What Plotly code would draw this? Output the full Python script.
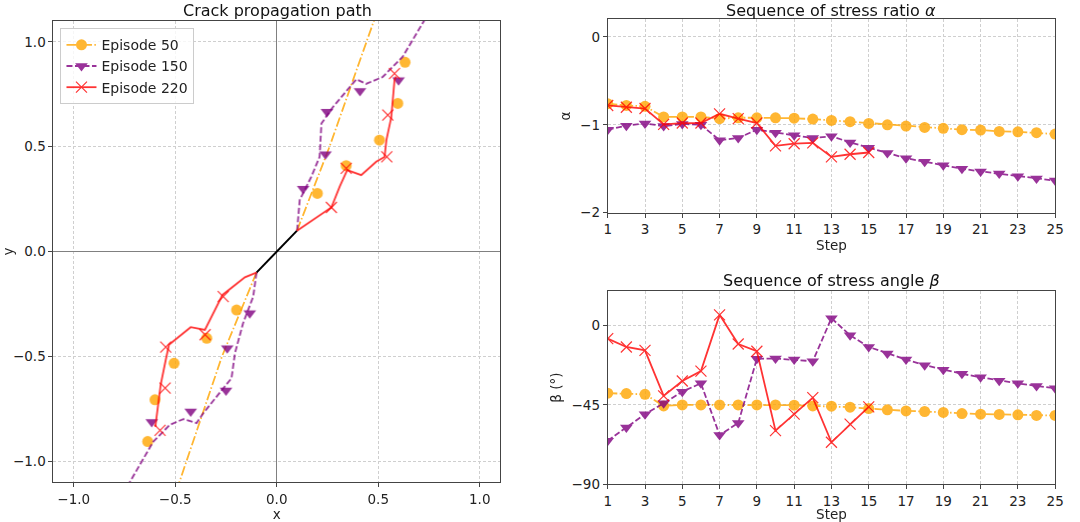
import plotly.graph_objects as go

# --- crack propagation path (left panel) ---
seed_x = [-0.1, 0.1]
seed_y = [-0.1, 0.1]

# Episode 50: path lines and sampled points
ep50_up_x = [0.1, 0.26, 0.515]
ep50_up_y = [0.1, 0.5, 1.2]
ep50_lo_x = [-0.1, -0.27, -0.515]
ep50_lo_y = [-0.1, -0.5, -1.2]
ep50_pts_x = [0.2, 0.342, 0.506, 0.596, 0.632, -0.198, -0.345, -0.506, -0.6, -0.636]
ep50_pts_y = [0.278, 0.41, 0.532, 0.707, 0.903, -0.278, -0.413, -0.532, -0.706, -0.905]

# Episode 150
ep150_up_x = [0.1, 0.113, 0.17, 0.211, 0.22, 0.277, 0.392, 0.44, 0.522, 0.62, 0.727, 0.76]
ep150_up_y = [0.1, 0.246, 0.357, 0.452, 0.611, 0.69, 0.822, 0.80, 0.833, 0.929, 1.103, 1.16]
ep150_lo_x = [-0.1, -0.116, -0.166, -0.206, -0.223, -0.362, -0.395, -0.46, -0.526, -0.608, -0.722, -0.75]
ep150_lo_y = [-0.1, -0.214, -0.341, -0.484, -0.603, -0.77, -0.817, -0.798, -0.825, -0.905, -1.095, -1.15]
ep150_pts_x = [0.13, 0.24, 0.247, 0.41, 0.6, -0.133, -0.244, -0.25, -0.424, -0.616]
ep150_pts_y = [0.30, 0.465, 0.667, 0.766, 0.817, -0.293, -0.46, -0.662, -0.762, -0.812]

# Episode 220
ep220_up_x = [0.1, 0.178, 0.269, 0.31, 0.347, 0.416, 0.49, 0.531, 0.54, 0.564, 0.58, 0.588]
ep220_up_y = [0.1, 0.151, 0.211, 0.31, 0.389, 0.365, 0.429, 0.452, 0.532, 0.64, 0.818, 0.835]
ep220_lo_x = [-0.1, -0.157, -0.267, -0.354, -0.424, -0.531, -0.547, -0.572, -0.596, -0.598]
ep220_lo_y = [-0.1, -0.122, -0.206, -0.373, -0.36, -0.444, -0.516, -0.635, -0.817, -0.835]
ep220_pts_x = [0.269, 0.342, 0.542, 0.547, 0.58, -0.264, -0.353, -0.547, -0.55, -0.575]
ep220_pts_y = [0.211, 0.397, 0.452, 0.651, 0.849, -0.214, -0.396, -0.455, -0.65, -0.852]

# --- stress sequences (right panels) ---
steps_50 = list(range(1, 26))
steps_150 = list(range(1, 26))
steps_220 = list(range(1, 16))

alpha_50 = [-0.76, -0.78, -0.79, -0.91, -0.91, -0.91, -0.93, -0.92, -0.92, -0.92,
            -0.925, -0.935, -0.95, -0.965, -0.985, -1.0, -1.015, -1.03, -1.04, -1.055,
            -1.06, -1.075, -1.08, -1.09, -1.105]
alpha_150 = [-1.055, -1.01, -0.985, -1.015, -0.99, -1.0, -1.175, -1.15, -1.055, -1.09,
             -1.12, -1.15, -1.13, -1.2, -1.26, -1.32, -1.38, -1.42, -1.46, -1.5,
             -1.53, -1.555, -1.585, -1.61, -1.635]
alpha_220 = [-0.78, -0.80, -0.815, -0.995, -0.98, -0.98, -0.875, -0.93, -0.98, -1.24,
             -1.215, -1.205, -1.365, -1.335, -1.315]

beta_50 = [-38.4, -38.6, -39.0, -45.6, -45.0, -45.0, -45.0, -45.0, -45.0, -45.0,
           -45.2, -45.6, -45.75, -46.3, -47.1, -47.8, -48.4, -48.75, -49.3, -49.9,
           -50.25, -50.4, -50.6, -51.0, -51.0]
beta_150 = [-65.3, -57.75, -50.25, -44.1, -37.5, -32.8, -62.1, -55.3, -18.9, -18.75,
            -19.3, -20.25, 4.1, -5.6, -12.2, -15.9, -19.3, -22.5, -25.1, -27.4,
            -29.4, -31.3, -32.8, -34.3, -35.6]
beta_220 = [-7.5, -12.2, -14.1, -39.9, -31.5, -25.9, 6.0, -10.5, -14.6, -59.6,
            -50.25, -40.9, -66.2, -55.9, -46.1]

episodes = ["Episode 50", "Episode 150", "Episode 220"]
step_ticks = list(range(1, 26, 2))

ORANGE = "orange"
PURPLE = "purple"
RED = "red"
FONT = "DejaVu Sans"

styles = [
    dict(color=ORANGE, dash="9.6px,2.4px,1.5px,2.4px", symbol="circle", size=11, mline=0),
    dict(color=PURPLE, dash="6px,2.5px", symbol="triangle-down", size=11, mline=0),
    dict(color=RED, dash="solid", symbol="x-thin", size=11, mline=1.2),
]


def marker(st):
    return dict(symbol=st["symbol"], size=st["size"], color=st["color"],
                line=dict(width=st["mline"], color=st["color"]))


def joined(a, b):
    return a + [None] + b


fig = go.Figure()

# left panel
fig.add_trace(go.Scatter(x=seed_x, y=seed_y, mode="lines", line=dict(color="black", width=2),
                         showlegend=False, xaxis="x", yaxis="y"))
paths = [
    (joined(ep50_up_x, ep50_lo_x), joined(ep50_up_y, ep50_lo_y), ep50_pts_x, ep50_pts_y),
    (joined(ep150_up_x, ep150_lo_x), joined(ep150_up_y, ep150_lo_y), ep150_pts_x, ep150_pts_y),
    (joined(ep220_up_x, ep220_lo_x), joined(ep220_up_y, ep220_lo_y), ep220_pts_x, ep220_pts_y),
]
for (lx, ly, px, py), st in zip(paths, styles):
    fig.add_trace(go.Scatter(x=lx, y=ly, mode="lines", opacity=0.8,
                             line=dict(color=st["color"], dash=st["dash"], width=1.8),
                             showlegend=False, xaxis="x", yaxis="y"))
    fig.add_trace(go.Scatter(x=px, y=py, mode="markers", opacity=0.8, marker=marker(st),
                             showlegend=False, xaxis="x", yaxis="y"))
# legend entries
for name, st in zip(episodes, styles):
    fig.add_trace(go.Scatter(x=[None], y=[None], mode="lines+markers", name=name, opacity=0.8,
                             line=dict(color=st["color"], dash=st["dash"], width=1.8),
                             marker=marker(st), xaxis="x", yaxis="y"))

# right panels
series = [
    (steps_50, alpha_50, beta_50),
    (steps_150, alpha_150, beta_150),
    (steps_220, alpha_220, beta_220),
]
for (sx, a, b), st in zip(series, styles):
    for yv, ax in ((a, "2"), (b, "3")):
        fig.add_trace(go.Scatter(x=sx, y=yv, mode="lines+markers", opacity=0.8,
                                 line=dict(color=st["color"], dash=st["dash"], width=1.8),
                                 marker=marker(st), showlegend=False,
                                 xaxis="x" + ax, yaxis="y" + ax))

axis_common = dict(showgrid=True, gridcolor="#cfcfcf", griddash="3px,2px", gridwidth=1,
                   showline=True, linecolor="#444", linewidth=1, mirror=True,
                   ticks="outside", ticklen=4, tickcolor="#444", automargin=False,
                   tickfont=dict(size=13.5, family=FONT, color="#222"))

fig.update_layout(
    width=1080, height=522,
    margin=dict(l=0, r=0, t=0, b=0, autoexpand=False),
    paper_bgcolor="white", plot_bgcolor="white",
    font=dict(family=FONT, size=14, color="#222"),
    showlegend=True,
    legend=dict(x=0.056, y=0.946, xanchor="left", yanchor="top",
                bgcolor="rgba(255,255,255,0.8)", bordercolor="#cccccc", borderwidth=1,
                font=dict(size=14, family=FONT), tracegroupgap=0, itemwidth=30),
    xaxis=dict(domain=[0.0495, 0.463], range=[-1.1, 1.1], anchor="y",
               tickvals=[-1.0, -0.5, 0.0, 0.5, 1.0], ticktext=["\u22121.0", "\u22120.5", "0.0", "0.5", "1.0"],
               title=dict(text="x", standoff=4, font=dict(size=13.5)),
               zeroline=True, zerolinecolor="gray", zerolinewidth=1.2, **axis_common),
    yaxis=dict(domain=[0.076, 0.960], range=[-1.1, 1.1], anchor="x",
               tickvals=[-1.0, -0.5, 0.0, 0.5, 1.0], ticktext=["\u22121.0", "\u22120.5", "0.0", "0.5", "1.0"],
               title=dict(text="y", standoff=6, font=dict(size=13.5)),
               zeroline=True, zerolinecolor="gray", zerolinewidth=1.2, **axis_common),
    xaxis2=dict(domain=[0.5627, 0.977], range=[1, 25], anchor="y2", tickvals=step_ticks, zeroline=False,
                title=dict(text="Step", standoff=4, font=dict(size=13.5)), **axis_common),
    yaxis2=dict(domain=[0.5925, 0.963], range=[-2, 0.2], anchor="x2", zeroline=False,
                tickvals=[0, -1, -2], ticktext=["0", "\u22121", "\u22122"],
                title=dict(text="\u03b1", standoff=6, font=dict(size=13.5)), **axis_common),
    xaxis3=dict(domain=[0.5627, 0.977], range=[1, 25], anchor="y3", tickvals=step_ticks, zeroline=False,
                title=dict(text="Step", standoff=4, font=dict(size=13.5)), **axis_common),
    yaxis3=dict(domain=[0.0722, 0.4425], range=[-90, 19.5], anchor="x3", zeroline=False,
                tickvals=[0, -45, -90], ticktext=["0", "\u221245", "\u221290"],
                title=dict(text="\u03b2 (\u00b0)", standoff=6, font=dict(size=13.5)), **axis_common),
    annotations=[
        dict(text="Crack propagation path", x=277 / 1080, y=1 - 10 / 522, xref="paper", yref="paper",
             xanchor="center", yanchor="middle",
             showarrow=False, font=dict(size=16, family=FONT, color="#111")),
        dict(text="Sequence of stress ratio <i>\u03b1</i>", x=831 / 1080, y=1 - 10 / 522, xref="paper", yref="paper",
             xanchor="center", yanchor="middle",
             showarrow=False, font=dict(size=16, family=FONT, color="#111")),
        dict(text="Sequence of stress angle <i>\u03b2</i>", x=831 / 1080, y=1 - 280 / 522, xref="paper", yref="paper",
             xanchor="center", yanchor="middle",
             showarrow=False, font=dict(size=16, family=FONT, color="#111")),
    ],
)

# drop the browser's default page margin so the figure sits at the window's corner
fig.write_html("out.html", config={"displayModeBar": False},
               post_script="document.body.style.margin='0';document.body.style.overflow='hidden';")
